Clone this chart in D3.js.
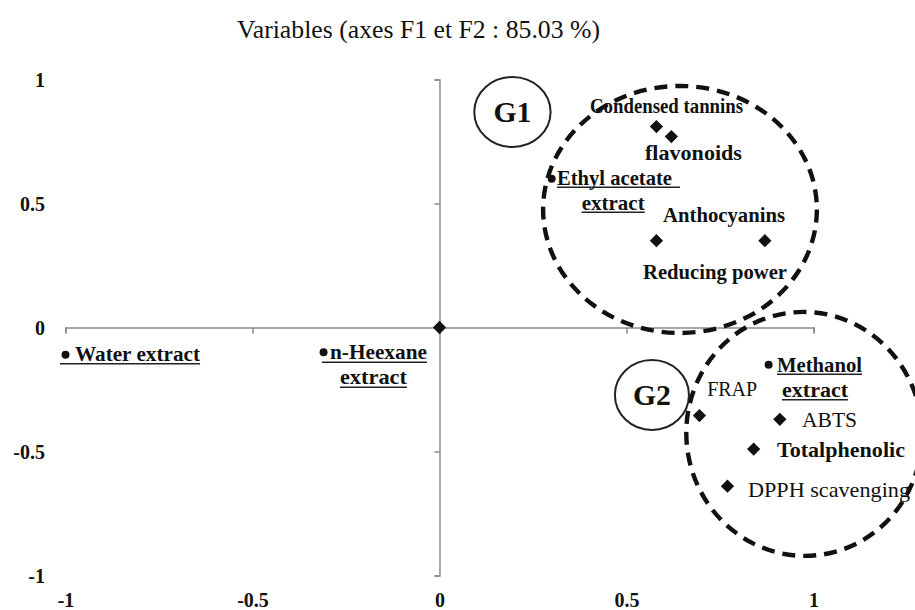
<!DOCTYPE html>
<html>
<head>
<meta charset="utf-8">
<script src="https://cdn.jsdelivr.net/npm/d3@7"></script>
<style>
  html, body { margin: 0; padding: 0; background: #ffffff; }
  svg { display: block; }
  text { font-family: "Liberation Serif", "Times New Roman", serif; fill: #111; }
</style>
</head>
<body>
<svg id="chart" width="915" height="610"></svg>
<script>
// PCA correlation circle: variables and extracts projected on F1 / F2
const extractNames = ["Water extract", "n-Heexane extract", "Ethyl acetate extract", "Methanol extract"];
const extractF1 = [-1.00, -0.31, 0.30, 0.88];
const extractF2 = [-0.11, -0.10, 0.60, -0.15];

const variableNames = ["", "Condensed tannins", "flavonoids", "Anthocyanins", "Reducing power",
                       "FRAP", "ABTS", "Totalphenolic", "DPPH scavenging"];
const variableF1 = [0.00, 0.58, 0.62, 0.58, 0.87, 0.695, 0.91, 0.84, 0.77];
const variableF2 = [0.00, 0.81, 0.77, 0.35, 0.35, -0.355, -0.37, -0.49, -0.64];

const tickValues = [-1, -0.5, 0, 0.5, 1];
const tickLabels = ["-1", "-0.5", "0", "0.5", "1"];

const titleText = "Variables (axes F1 et F2 : 85.03 %)";

// Group outlines (centre and radii in F1/F2 units)
const groupNames = ["G1", "G2"];
const groupCx = [0.643, 0.975];
const groupCy = [0.476, -0.429];
const groupRx = [0.366, 0.315];
const groupRy = [0.498, 0.492];
const groupTagCx = [0.195, 0.568];
const groupTagCy = [0.869, -0.272];
const groupTagRx = [0.102, 0.099];
const groupTagRy = [0.141, 0.141];

// ---- layout -------------------------------------------------------------
const svg = d3.select("#chart");
const x = d3.scaleLinear().domain([-1, 1]).range([65.5, 813.5]);
const y = d3.scaleLinear().domain([-1, 1]).range([575.5, 79.5]);

// label placement, offsets in px from the point
const extractLabelLayout = [
  { lines: [{ t: "Water extract", dx: 9.5, dy: 6, w: 125, ul: [-5.5, 134.5], uy: 9 }] },
  { lines: [{ t: "n-Heexane", dx: 6.4, dy: 7, w: 97, ul: [-1.6, 103.4], uy: 10 },
            { t: "extract", dx: 16.4, dy: 32, w: 67, ul: [16.4, 83.4], uy: 35 }] },
  { lines: [{ t: "Ethyl acetate", dx: 5.3, dy: 6, w: 115, ul: [5.3, 128.3], uy: 8.5 },
            { t: "extract", dx: 30, dy: 31, w: 63, ul: [30, 93], uy: 33.5 }] },
  { lines: [{ t: "Methanol", dx: 8.4, dy: 7, w: 85, ul: [8.4, 93.4], uy: 9.5 },
            { t: "extract", dx: 13.4, dy: 32, w: 66, ul: [13.4, 79.4], uy: 35 }] }
];
const variableLabelLayout = [
  null,
  { dx: -66.4, dy: -13.6, w: 153, bold: true },
  { dx: -26.4, dy: 23.5, w: 97, bold: true },
  { dx: 6.6, dy: -19, w: 122, bold: true },
  { dx: -121.9, dy: 38, w: 144, bold: true },
  { dx: 7.7, dy: -19.5, w: 50, bold: false },
  { dx: 22.2, dy: 8, w: 55, bold: false },
  { dx: 23.3, dy: 8, w: 128, bold: true },
  { dx: 20.5, dy: 11, w: 162, bold: false }
];

const axisColor = "#8a8a8a";
const labelSize = 21.5;

// title
svg.append("text")
  .attr("x", 237).attr("y", 38)
  .attr("font-size", 26)
  .attr("textLength", 363).attr("lengthAdjust", "spacingAndGlyphs")
  .text(titleText);

// central axes with tick marks
const xAxisG = svg.append("g")
  .attr("transform", `translate(0,${y(0)})`)
  .call(d3.axisBottom(x).tickValues(tickValues).tickSize(6).tickSizeOuter(6).tickFormat(""));
const yAxisG = svg.append("g")
  .attr("transform", `translate(${x(0)},0)`)
  .call(d3.axisLeft(y).tickValues(tickValues).tickSize(5).tickSizeOuter(5).tickFormat(""));
[xAxisG, yAxisG].forEach(g => {
  g.selectAll("path, line").attr("stroke", axisColor).attr("stroke-width", 1.5);
});

// tick labels on the outer edges
const xLabels = svg.append("g")
  .attr("transform", "translate(0,607)")
  .call(d3.axisBottom(x).tickValues(tickValues).tickSize(0)
        .tickFormat((d, i) => tickLabels[i]));
xLabels.select(".domain").remove();
xLabels.selectAll("text")
  .attr("y", 0).attr("dy", 0)
  .attr("font-family", "Liberation Serif, serif")
  .attr("font-size", 20).attr("font-weight", "bold").attr("fill", "#111");

const yLabels = svg.append("g")
  .attr("transform", "translate(45,0)")
  .call(d3.axisLeft(y).tickValues(tickValues).tickSize(0)
        .tickFormat((d, i) => tickLabels[i]));
yLabels.select(".domain").remove();
yLabels.selectAll("text")
  .attr("x", 0).attr("dy", "0.33em")
  .attr("font-family", "Liberation Serif, serif")
  .attr("font-size", 20).attr("font-weight", "bold").attr("fill", "#111");

// dashed group outlines
groupNames.forEach((g, i) => {
  svg.append("ellipse")
    .attr("cx", x(groupCx[i])).attr("cy", y(groupCy[i]))
    .attr("rx", x(groupRx[i]) - x(0)).attr("ry", y(0) - y(groupRy[i]))
    .attr("transform", i === 1 ? `rotate(-6 ${x(groupCx[i])} ${y(groupCy[i])})` : null)
    .attr("fill", "none").attr("stroke", "#111")
    .attr("stroke-width", 4.4).attr("stroke-dasharray", "13 8");
  svg.append("ellipse")
    .attr("cx", x(groupTagCx[i])).attr("cy", y(groupTagCy[i]))
    .attr("rx", x(groupTagRx[i]) - x(0)).attr("ry", y(0) - y(groupTagRy[i]))
    .attr("fill", "none").attr("stroke", "#222").attr("stroke-width", 2);
  svg.append("text")
    .attr("x", x(groupTagCx[i])).attr("y", y(groupTagCy[i]) + 10)
    .attr("text-anchor", "middle")
    .attr("font-size", 29).attr("font-weight", "bold")
    .attr("textLength", 38).attr("lengthAdjust", "spacingAndGlyphs")
    .text(g);
});

// variables as diamonds
const diamond = d3.symbol().type(d3.symbolSquare).size(88)();
svg.append("g").selectAll("path")
  .data(variableNames.map((n, i) => ({ n, f1: variableF1[i], f2: variableF2[i] })))
  .join("path")
  .attr("d", diamond)
  .attr("transform", d => `translate(${x(d.f1)},${y(d.f2)}) rotate(45)`)
  .attr("fill", "#111");

variableNames.forEach((n, i) => {
  const L = variableLabelLayout[i];
  if (!L) return;
  svg.append("text")
    .attr("x", x(variableF1[i]) + L.dx).attr("y", y(variableF2[i]) + L.dy)
    .attr("font-size", labelSize).attr("font-weight", L.bold ? "bold" : "normal")
    .attr("textLength", L.w).attr("lengthAdjust", "spacingAndGlyphs")
    .text(n);
});

// extracts as dots with underlined labels
svg.append("g").selectAll("circle")
  .data(extractNames.map((n, i) => ({ n, f1: extractF1[i], f2: extractF2[i] })))
  .join("circle")
  .attr("cx", d => x(d.f1)).attr("cy", d => y(d.f2))
  .attr("r", 4).attr("fill", "#111");

extractNames.forEach((n, i) => {
  const px = x(extractF1[i]), py = y(extractF2[i]);
  extractLabelLayout[i].lines.forEach(l => {
    svg.append("text")
      .attr("x", px + l.dx).attr("y", py + l.dy)
      .attr("font-size", labelSize).attr("font-weight", "bold")
      .attr("textLength", l.w).attr("lengthAdjust", "spacingAndGlyphs")
      .text(l.t);
    svg.append("line")
      .attr("x1", px + l.ul[0]).attr("x2", px + l.ul[1])
      .attr("y1", py + l.uy).attr("y2", py + l.uy)
      .attr("stroke", "#222").attr("stroke-width", 1.6);
  });
});
</script>
</body>
</html>
